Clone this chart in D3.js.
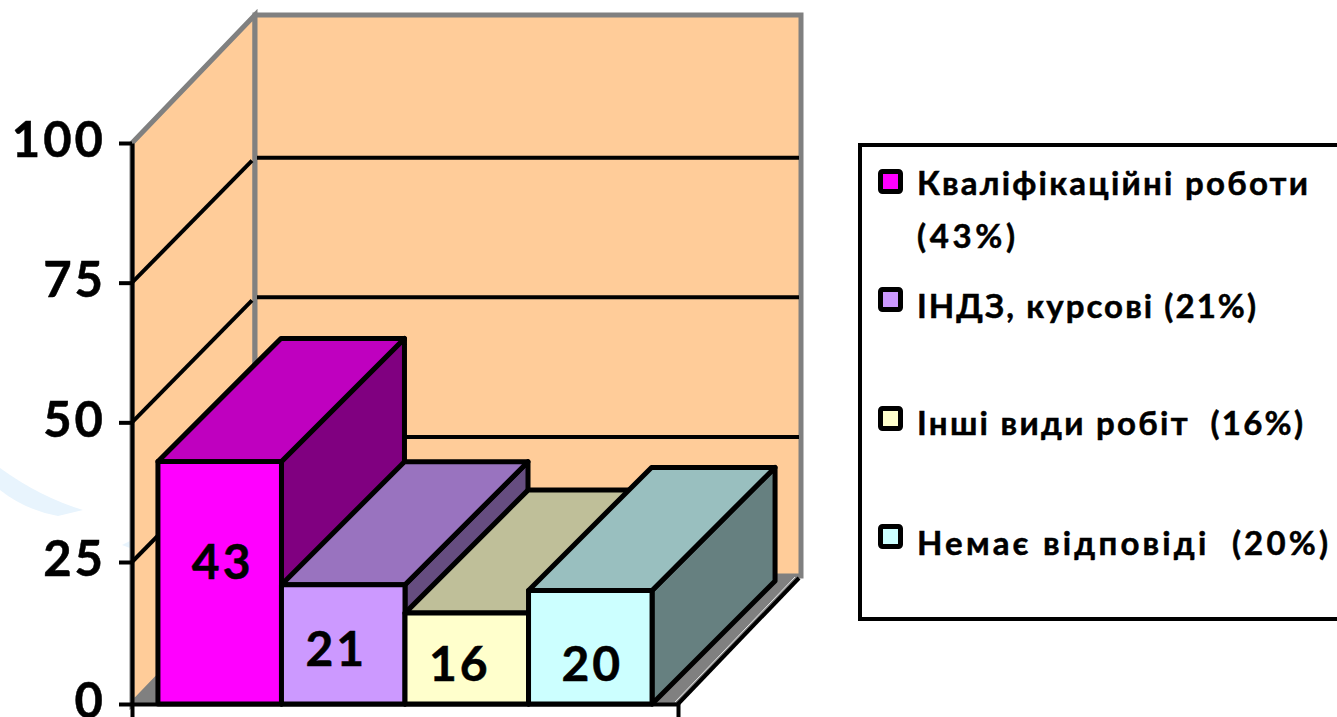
<!DOCTYPE html>
<html>
<head>
<meta charset="utf-8">
<script src="https://cdn.jsdelivr.net/npm/d3@7"></script>
<style>
  html, body { margin: 0; background: #fff; overflow: hidden; }
  text { font-family: Lato, "Open Sans", sans-serif; font-weight: 700; fill: #000; stroke: #000; stroke-width: 0.5px; }
</style>
</head>
<body>
<div id="container"></div>
<script>
//### DATA ###
const categories = [ 'Кваліфікаційні роботи', 'ІНДЗ, курсові', 'Інші види робіт', 'Немає відповіді' ];
const values = [ 43, 21, 16, 20 ];
const colors = [ '#ff00ff', '#cc99ff', '#ffffcc', '#ccffff' ];
const yTicks = [ 0, 25, 50, 75, 100 ];
const legendLines = [
  [ 'Кваліфікаційні роботи', '(43%)' ],
  [ 'ІНДЗ, курсові (21%)' ],
  [ 'Інші види робіт  (16%)' ],
  [ 'Немає відповіді  (20%)' ]
];

//### LAYOUT ###
const width = 1337;
const height = 717;
const wallDx = 123;
const wallDy = 128;
const gridDy = 125;
const barDepth = 123;
const valueLabelDx = [ 3, -7, -7, 2 ];
const valueLabelY = [ 579, 666, 681, 681 ];
const legendTextY = [ 195, 318, 435, 555 ];
const legendMarkY = [ 182, 300, 419, 537 ];
const legendTextW = [ [ 391, 98 ], [ 339 ], [ 386 ], [ 411 ] ];

const svg = d3.select( '#container' ).append( 'svg' )
  .attr( 'width', width )
  .attr( 'height', height );

//>>> Scales (the chart's 0-25 band is a bit taller than the others)
const y = d3.scaleLinear().domain( [ 0, 25, 100 ] ).range( [ 704, 562, 143 ] );
const x = d3.scaleBand().domain( categories ).range( [ 132, 678 ] )
  .paddingInner( 0 ).paddingOuter( 0.21 );

const poly = pts => 'M' + pts.map( p => p.join( ',' ) ).join( 'L' ) + 'Z';
const x0 = x.range()[ 0 ];
const x1 = x.range()[ 1 ];

//_____ WATERMARK SWOOSH _____
svg.append( 'path' )
  .attr( 'd', 'M0,468 Q40,497 83,510 L58,516 Q25,510 0,490 Z' )
  .attr( 'fill', '#e8f4fd' );
svg.append( 'path' )
  .attr( 'd', 'M122,545 L130,541 L130,548 Z' )
  .attr( 'fill', '#e8f4fd' );

//_____ WALLS AND FLOOR _____
svg.append( 'path' )
  .attr( 'd', poly( [ [ x0, y( 100 ) ], [ x0 + wallDx, y( 100 ) - wallDy ], [ x0 + wallDx, y( 0 ) - wallDy ], [ x0, y( 0 ) ] ] ) )
  .attr( 'fill', '#ffcc99' ).attr( 'stroke', '#808080' ).attr( 'stroke-width', 5 );
svg.append( 'path' )
  .attr( 'd', poly( [ [ x0 + wallDx, y( 100 ) - wallDy ], [ x1 + wallDx, y( 100 ) - wallDy ], [ x1 + wallDx, y( 0 ) - wallDy ], [ x0 + wallDx, y( 0 ) - wallDy ] ] ) )
  .attr( 'fill', '#ffcc99' ).attr( 'stroke', '#808080' ).attr( 'stroke-width', 5 );
svg.append( 'path' )
  .attr( 'd', poly( [ [ x0, y( 0 ) ], [ x0 + wallDx, y( 0 ) - wallDy ], [ x1 + wallDx, y( 0 ) - wallDy ], [ x1, y( 0 ) ] ] ) )
  .attr( 'fill', '#808080' );
svg.append( 'line' )
  .attr( 'x1', x1 ).attr( 'y1', y( 0 ) )
  .attr( 'x2', x1 + wallDx - 2 ).attr( 'y2', y( 0 ) - wallDy + 2 )
  .attr( 'stroke', '#000' ).attr( 'stroke-width', 4 );
svg.append( 'line' ) //--- thin highlight just inside the floor edge
  .attr( 'x1', x1 - 3 ).attr( 'y1', y( 0 ) - 2 )
  .attr( 'x2', x1 + wallDx - 6 ).attr( 'y2', y( 0 ) - wallDy + 1 )
  .attr( 'stroke', '#e6e6e6' ).attr( 'stroke-width', 1 );

//_____ GRIDLINES _____
const grid = svg.append( 'g' ).attr( 'stroke', '#000' ).attr( 'stroke-width', 4 );
grid.selectAll( '.side' ).data( yTicks.slice( 1, -1 ) ).enter().append( 'line' )
  .attr( 'x1', x0 ).attr( 'y1', d => y( d ) )
  .attr( 'x2', x0 + wallDx - 3 ).attr( 'y2', d => y( d ) - gridDy + 3 );
grid.selectAll( '.back' ).data( yTicks.slice( 1, -1 ) ).enter().append( 'line' )
  .attr( 'x1', x0 + wallDx + 2 ).attr( 'y1', d => y( d ) - gridDy )
  .attr( 'x2', x1 + wallDx - 2 ).attr( 'y2', d => y( d ) - gridDy );

//_____ BARS _____
const shade = ( c, k ) => {
  const r = d3.rgb( c );
  return d3.rgb( r.r * k, r.g * k, r.b * k ).formatHex();
};
const bars = svg.selectAll( '.bar' )
  .data( categories.map( ( c, i ) => ( { c, v: values[ i ], color: colors[ i ] } ) ) )
  .enter().append( 'g' )
  .attr( 'class', 'bar' )
  .attr( 'stroke', '#000' )
  .attr( 'stroke-width', 5 )
  .attr( 'stroke-linejoin', 'round' );

bars.append( 'path' ) //--- side
  .attr( 'fill', d => shade( d.color, 0.5 ) )
  .attr( 'd', d => {
    const r = x( d.c ) + x.bandwidth();
    return poly( [ [ r, y( d.v ) ], [ r + barDepth, y( d.v ) - barDepth ], [ r + barDepth, y( 0 ) - barDepth ], [ r, y( 0 ) ] ] );
  } );
bars.append( 'path' ) //--- top
  .attr( 'fill', d => shade( d.color, 0.75 ) )
  .attr( 'd', d => {
    const l = x( d.c );
    const r = l + x.bandwidth();
    return poly( [ [ l, y( d.v ) ], [ l + barDepth, y( d.v ) - barDepth ], [ r + barDepth, y( d.v ) - barDepth ], [ r, y( d.v ) ] ] );
  } );
bars.append( 'rect' ) //--- front
  .attr( 'fill', d => d.color )
  .attr( 'x', d => x( d.c ) )
  .attr( 'y', d => y( d.v ) )
  .attr( 'width', x.bandwidth() )
  .attr( 'height', d => y( 0 ) - y( d.v ) );

//>>> Value labels
svg.selectAll( '.value' )
  .data( categories.map( ( c, i ) => ( { c, v: values[ i ], dx: valueLabelDx[ i ], ly: valueLabelY[ i ] } ) ) )
  .enter().append( 'text' )
  .attr( 'class', 'value' )
  .attr( 'x', d => x( d.c ) + x.bandwidth() / 2 + d.dx )
  .attr( 'y', d => d.ly )
  .attr( 'text-anchor', 'middle' )
  .style( 'font-size', '48px' )
  .style( 'letter-spacing', '3px' )
  .text( d => d.v );

//_____ AXES _____
const yAxis = svg.append( 'g' )
  .attr( 'transform', `translate(${x0},0)` )
  .call( d3.axisLeft( y ).tickValues( yTicks ).tickSize( 13 ).tickSizeOuter( 0 ).tickPadding( 13 ) );
const xAxis = svg.append( 'g' )
  .attr( 'transform', `translate(0,${y( 0 )})` )
  .call( d3.axisBottom( x ).tickValues( [] ).tickSizeOuter( 13 ) );
svg.selectAll( '.domain, .tick line' )
  .attr( 'stroke', '#000' )
  .attr( 'stroke-width', 4 );
yAxis.selectAll( 'text' )
  .style( 'font-family', 'Lato, "Open Sans", sans-serif' )
  .style( 'font-size', '49px' )
  .style( 'letter-spacing', '3px' )
  .attr( 'dy', '0.28em' );

//_____ LEGEND _____
const legend = svg.append( 'g' ).attr( 'id', 'legend' );
legend.append( 'rect' )
  .attr( 'x', 860 ).attr( 'y', 145 )
  .attr( 'width', 490 ).attr( 'height', 474 )
  .attr( 'fill', '#fff' ).attr( 'stroke', '#000' ).attr( 'stroke-width', 4 );
legendLines.forEach( ( lines, i ) => {
  legend.append( 'rect' )
    .attr( 'x', 880.5 ).attr( 'y', legendMarkY[ i ] - 10.5 )
    .attr( 'width', 20 ).attr( 'height', 20 )
    .attr( 'rx', 2 )
    .attr( 'fill', colors[ i ] ).attr( 'stroke', '#000' ).attr( 'stroke-width', 5 );
  lines.forEach( ( line, j ) => {
    legend.append( 'text' )
      .attr( 'x', 917 )
      .attr( 'y', legendTextY[ i ] + j * 53 )
      .attr( 'textLength', legendTextW[ i ][ j ] )
      .attr( 'lengthAdjust', 'spacing' )
      .style( 'font-size', '33px' )
      .style( 'white-space', 'pre' )
      .text( line );
  } );
} );
</script>
</body>
</html>
